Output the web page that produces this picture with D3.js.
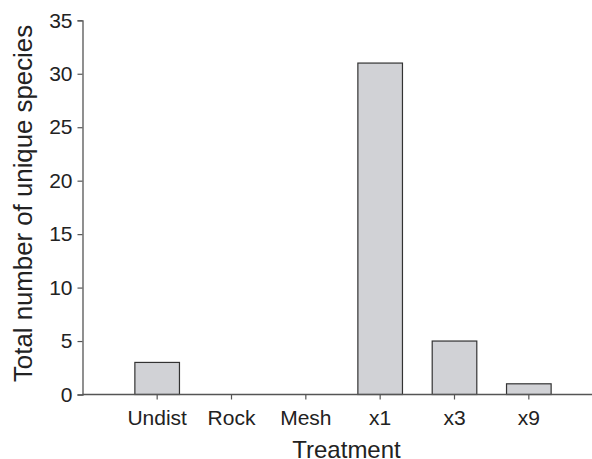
<!DOCTYPE html>
<html>
<head>
<meta charset="utf-8">
<script src="https://cdn.jsdelivr.net/npm/d3@7"></script>
<style>
  body { margin: 0; background: #fff; }
  svg { display: block; font-family: "Liberation Sans", Arial, sans-serif; }
</style>
</head>
<body>
<svg id="chart" width="592" height="459"></svg>
<script>
const treatments = ["Undist", "Rock", "Mesh", "x1", "x3", "x9"];
const species = [3, 0, 0, 31, 5, 1];
const yTicks = [0, 5, 10, 15, 20, 25, 30, 35];

const svg = d3.select("#chart");
const plotLeft = 82.5, plotRight = 592, plotTop = 20.3, plotBottom = 394.5;

const x = d3.scaleBand()
    .domain(treatments)
    .range([120, 566])
    .paddingInner(0.4)
    .paddingOuter(0.2);

const y = d3.scaleLinear()
    .domain([0, 35])
    .range([plotBottom, plotTop]);

// Bars
svg.selectAll("rect.bar")
    .data(treatments.map((t, i) => ({ t, v: species[i] })).filter(d => d.v > 0))
    .join("rect")
    .attr("class", "bar")
    .attr("x", d => x(d.t))
    .attr("y", d => y(d.v))
    .attr("width", x.bandwidth())
    .attr("height", d => plotBottom - y(d.v))
    .attr("fill", "#d1d2d6")
    .attr("stroke", "#333")
    .attr("stroke-width", 1.2);

// Y axis
const yAxis = svg.append("g")
    .attr("transform", `translate(${plotLeft},0)`)
    .call(d3.axisLeft(y).tickValues(yTicks).tickSizeOuter(0).tickSize(5).tickPadding(5));
yAxis.select(".domain").attr("stroke", "#555").attr("stroke-width", 1.3);
yAxis.selectAll(".tick line").attr("stroke", "#555").attr("stroke-width", 1.2);
yAxis.selectAll(".tick text")
    .attr("font-size", 21)
    .attr("font-family", "Liberation Sans, Arial, sans-serif")
    .attr("fill", "#222");

// X axis
const xAxis = svg.append("g")
    .attr("transform", `translate(0,${plotBottom})`)
    .call(d3.axisBottom(x).tickSizeOuter(0).tickSize(5).tickPadding(10.5));
xAxis.select(".domain").remove();
xAxis.append("line")
    .attr("x1", plotLeft).attr("x2", plotRight)
    .attr("stroke", "#555").attr("stroke-width", 1.3);
xAxis.selectAll(".tick line").attr("stroke", "#555").attr("stroke-width", 1.2);
xAxis.selectAll(".tick text")
    .attr("font-size", 21)
    .attr("font-family", "Liberation Sans, Arial, sans-serif")
    .attr("fill", "#222");

// Axis titles
svg.append("text")
    .attr("x", 346.5)
    .attr("y", 458)
    .attr("text-anchor", "middle")
    .attr("font-size", 24)
    .attr("fill", "#222")
    .text("Treatment");

svg.append("text")
    .attr("transform", "translate(32,203.5) rotate(-90)")
    .attr("text-anchor", "middle")
    .attr("font-size", 25.8)
    .attr("fill", "#222")
    .text("Total number of unique species");
</script>
</body>
</html>
